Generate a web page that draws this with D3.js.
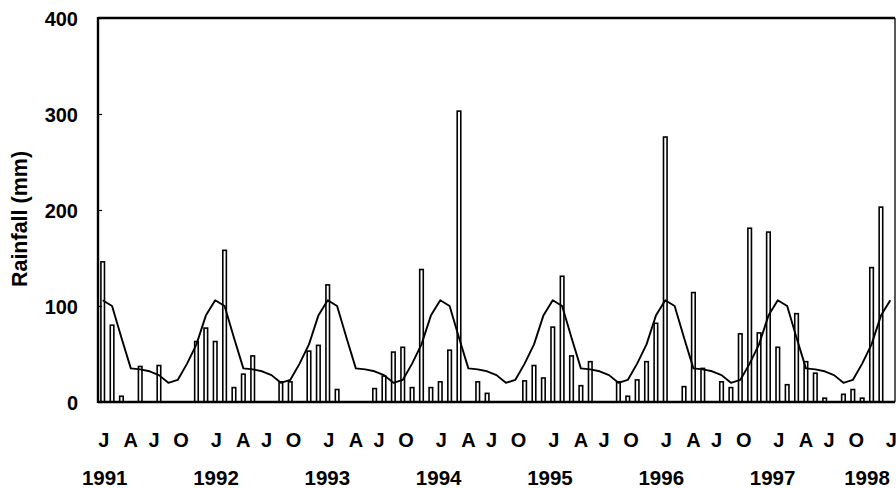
<!DOCTYPE html>
<html>
<head>
<meta charset="utf-8">
<script src="https://cdn.jsdelivr.net/npm/d3@7"></script>
<style>
  html, body { margin: 0; padding: 0; background: #fff; }
  svg text { font-family: "Liberation Sans", Arial, Helvetica, sans-serif; font-weight: bold; fill: #000; }
</style>
</head>
<body>
<svg id="chart" width="896" height="488"></svg>
<script>
// Monthly rainfall (mm), Jan 1991 .. Jan 1998
const rainfall = [
  146, 80, 6, 0, 37, 0, 38, 0, 0, 0, 63, 77,        // 1991
  63, 158, 15, 29, 48, 0, 0, 21, 21, 0, 53, 59,     // 1992
  122, 13, 0, 0, 0, 14, 27, 52, 57, 15, 138, 15,    // 1993
  21, 54, 303, 0, 21, 9, 0, 0, 0, 22, 38, 25,       // 1994
  78, 131, 48, 17, 42, 0, 0, 21, 6, 23, 42, 82,     // 1995
  276, 0, 16, 114, 35, 0, 21, 15, 71, 181, 72, 177, // 1996
  57, 18, 92, 42, 30, 4, 0, 8, 13, 4, 140, 203,     // 1997
  0                                                 // Jan 1998
];
// Long-term monthly mean (mm), drawn as the line
const meanRain = [
  106, 100, 67, 35, 34, 32, 28, 20, 23, 40, 60, 90,
  106, 100, 67, 35, 34, 32, 28, 20, 23, 40, 60, 90,
  106, 100, 67, 35, 34, 32, 28, 20, 23, 40, 60, 90,
  106, 100, 67, 35, 34, 32, 28, 20, 23, 40, 60, 90,
  106, 100, 67, 35, 34, 32, 28, 20, 23, 40, 60, 90,
  106, 100, 67, 35, 34, 32, 28, 20, 23, 40, 60, 90,
  106, 100, 67, 35, 34, 32, 28, 20, 23, 40, 60, 90,
  106
];
const monthTickIdx = [0,3,6,9,12,15,18,21,24,27,30,33,36,39,42,45,48,51,54,57,60,63,66,69,72,75,78,81,84];
const monthTickLabels = ["J","A","J","O","J","A","J","O","J","A","J","O","J","A","J","O",
                         "J","A","J","O","J","A","J","O","J","A","J","O","J"];
const yearTickIdx = [0,12,24,36,48,60,72,84];
const yearLabels = ["1991","1992","1993","1994","1995","1996","1997","1998"];
const yTicks = [0,100,200,300,400];

const svg = d3.select("#chart");
const pLeft = 98, pRight = 895, pTop = 18, pBottom = 402;

const x = d3.scaleBand().domain(d3.range(rainfall.length)).range([pLeft, pRight]).padding(0);
const bw = x.bandwidth();
const cx = i => x(i) + bw / 2;
const y = d3.scaleLinear().domain([0, 400]).range([pBottom, pTop]);

// Bars
const barW = bw * 0.38;
svg.append("g").selectAll("rect")
  .data(rainfall.map((v, i) => ({v, i})).filter(d => d.v > 0))
  .join("rect")
  .attr("x", d => cx(d.i) - barW / 2)
  .attr("y", d => y(d.v))
  .attr("width", barW)
  .attr("height", d => y(0) - y(d.v))
  .attr("fill", "#fff")
  .attr("stroke", "#000")
  .attr("stroke-width", 1.6);

// Mean line
svg.append("path")
  .datum(meanRain)
  .attr("fill", "none")
  .attr("stroke", "#000")
  .attr("stroke-width", 1.9)
  .attr("stroke-linejoin", "round")
  .attr("d", d3.line().x((d, i) => cx(i)).y(d => y(d)));

// Y axis
const yAxis = svg.append("g")
  .attr("transform", `translate(${pLeft},0)`)
  .call(d3.axisLeft(y).tickValues(yTicks).tickSize(-4).tickPadding(20).tickFormat(d3.format("d")));
yAxis.select(".domain").remove();
yAxis.selectAll(".tick line").attr("stroke", "#000").attr("stroke-width", 1.2);
yAxis.selectAll(".tick text").style("font-size", "20px").attr("dy", "0.36em");

// Frame
svg.append("line").attr("x1", pLeft).attr("x2", pRight).attr("y1", pTop).attr("y2", pTop)
  .attr("stroke", "#000").attr("stroke-width", 2.4);
svg.append("line").attr("x1", pRight).attr("x2", pRight).attr("y1", pTop).attr("y2", pBottom)
  .attr("stroke", "#000").attr("stroke-width", 1.3);
svg.append("line").attr("x1", pLeft).attr("x2", pLeft).attr("y1", pTop - 1).attr("y2", pBottom + 1)
  .attr("stroke", "#000").attr("stroke-width", 2.4);
svg.append("line").attr("x1", pLeft).attr("x2", pRight).attr("y1", pBottom).attr("y2", pBottom)
  .attr("stroke", "#000").attr("stroke-width", 2.4);

// Month labels
const qOffset = [1, 0, -5, -6];
svg.append("g").selectAll("text")
  .data(monthTickIdx)
  .join("text")
  .attr("x", (d, k) => cx(d) + qOffset[k % 4])
  .attr("y", 447)
  .attr("text-anchor", "middle")
  .style("font-size", "20px")
  .text((d, k) => monthTickLabels[k]);

// Year labels
svg.append("g").selectAll("text")
  .data(yearTickIdx)
  .join("text")
  .attr("x", (d, k) => Math.min(cx(d) + 2 - k * 1.2, 867))
  .attr("y", 485)
  .attr("text-anchor", "middle")
  .style("font-size", "20.5px")
  .text((d, k) => yearLabels[k]);

// Y axis title
svg.append("text")
  .attr("transform", `translate(27,${(pTop + pBottom) / 2 + 9}) rotate(-90)`)
  .attr("text-anchor", "middle")
  .style("font-size", "21.5px")
  .text("Rainfall (mm)");
</script>
</body>
</html>
